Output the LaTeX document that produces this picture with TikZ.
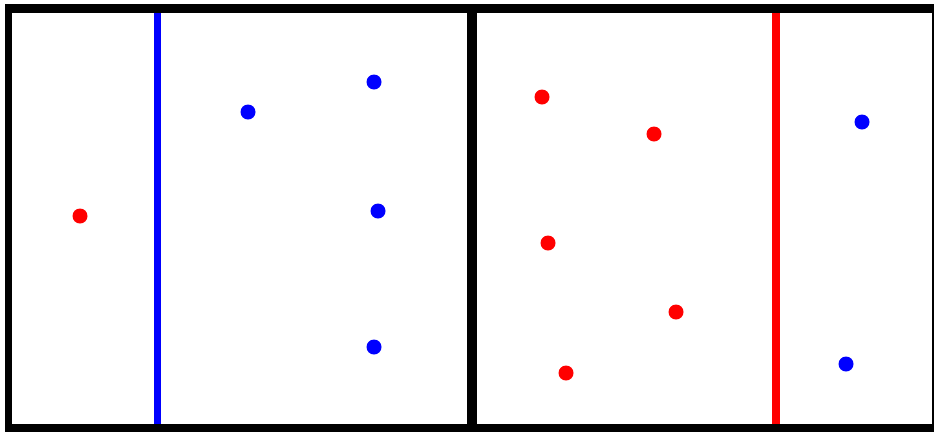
\documentclass[tikz,border=0pt]{standalone}
\begin{document}
\begin{tikzpicture}[x=1pt,y=-1pt,
  reddot/.style={circle,fill=red,inner sep=0pt,minimum size=15pt},
  bluedot/.style={circle,fill=blue,inner sep=0pt,minimum size=15pt}]
\useasboundingbox (0,0) rectangle (934,432);
\fill[white] (0,0) rectangle (934,432);
\fill[black] (5,4) rectangle (934,432);
\fill[white] (12,13) rectangle (467,424);
\fill[white] (477,13) rectangle (932,424);
% separating lines
\fill[blue] (153.5,13) rectangle (160.5,424);
\fill[red] (772,13) rectangle (780,424);
% left panel
\node[reddot] (l1) at (80,216) {};
\node[bluedot] (l2) at (248,112) {};
\node[bluedot] (l3) at (374,82) {};
\node[bluedot] (l4) at (378,211) {};
\node[bluedot] (l5) at (374,347) {};
% right panel
\node[reddot] (r1) at (542,97) {};
\node[reddot] (r2) at (654,134) {};
\node[reddot] (r3) at (548,243) {};
\node[reddot] (r4) at (676,312) {};
\node[reddot] (r5) at (566,373) {};
\node[bluedot] (r6) at (862,122) {};
\node[bluedot] (r7) at (846,364) {};
\end{tikzpicture}
\end{document}
